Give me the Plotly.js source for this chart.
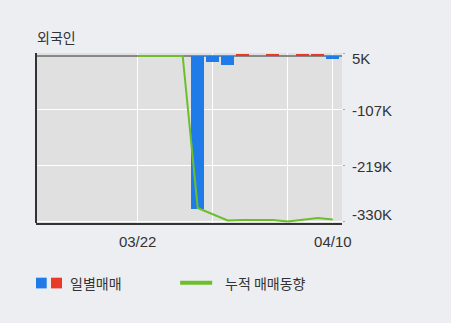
<!DOCTYPE html>
<html>
<head>
<meta charset="utf-8">
<script src="https://cdn.plot.ly/plotly-3.0.1.min.js"></script>
<style>html,body{margin:0;padding:0;background:#eceef2;}#chart{width:451px;height:323px;}</style>
</head>
<body>
<div id="chart"></div>
<script>
// trading dates (2019)
const dates = ["03/14","03/15","03/18","03/19","03/20","03/21","03/22","03/25","03/26","03/27","03/28","03/29","04/01","04/02","04/03","04/04","04/05","04/08","04/09","04/10"];
// daily net foreign trading (shares)
const daily = [0,0,0,0,0,0,0,0,0,0,-305000,-11000,-17000,5000,0,5000,0,5000,5000,-5000];
// cumulative trend
const cumulative = [null,null,null,null,null,null,0,0,0,0,-304000,-317000,-329000,-328000,-328000,-328000,-331000,-327000,-324000,-327000];
// axis ticks
const yTickVals = [5000,-107000,-219000,-330000];
const yTickText = ["5K","-107K","-219K","-330K"];
const xGridVals = ["03/22","03/29","04/05","04/10"];
const xTickText = ["03/22","","","04/10"];
const yLabelShift = [-4.5,-1,-1,7];
const title = "외국인";
const legendDaily = "일별매매";
const legendCum = "누적 매매동향";

const W=451,H=323, L=36, R=341.7, T=53.3, B=223.3;
function px(x){return (x-L)/(R-L);}
function py(y){return (B-y)/(B-T);}

const BLUE="#1f7be8", RED="#e8392a", GREEN="#6cbf2c";
const numFont = "Liberation Sans, Arial, sans-serif";
const krFont = "Noto Sans CJK KR, sans-serif";
const TXT = "#333";

const traces = [
 {type:"bar", x:dates, y:daily, width:0.87,
  marker:{color:daily.map(v=>v<0?BLUE:RED), line:{width:0}}, hoverinfo:"skip"},
 {type:"scatter", mode:"lines", x:dates, y:cumulative,
  line:{color:GREEN, width:2}, connectgaps:false, hoverinfo:"skip"}
];

const annotations = yTickVals.map((v,i)=>({
  xref:"paper", x:1, xanchor:"left", xshift:8, yref:"y", y:v, yanchor:"middle", yshift:yLabelShift[i],
  text:yTickText[i], showarrow:false, font:{family:numFont, size:15, color:TXT}
}));
annotations.push({xref:"paper", yref:"paper", x:px(68), y:py(283), xanchor:"left", yanchor:"middle",
  text:legendDaily, showarrow:false, font:{family:krFont, size:14, color:TXT}});
annotations.push({xref:"paper", yref:"paper", x:px(223), y:py(283), xanchor:"left", yanchor:"middle",
  text:legendCum, showarrow:false, font:{family:krFont, size:14, color:TXT}});

const shapes = [
 {type:"line", xref:"paper", yref:"paper", x0:0, x1:0, y0:0, y1:1, line:{color:"#333", width:2}},
 {type:"rect", xref:"paper", yref:"paper", x0:px(36), x1:px(46.7), y0:py(278), y1:py(288.7), fillcolor:BLUE, line:{width:0}},
 {type:"rect", xref:"paper", yref:"paper", x0:px(51), x1:px(62), y0:py(278), y1:py(288.7), fillcolor:RED, line:{width:0}},
 {type:"line", xref:"paper", yref:"paper", x0:px(180), x1:px(212), y0:py(283), y1:py(283), line:{color:GREEN, width:4}}
];

const layout = {
 width:W, height:H,
 margin:{l:L, r:W-R, t:T, b:H-B, pad:0},
 paper_bgcolor:"#eceef2", plot_bgcolor:"#e0e0e0",
 showlegend:false, bargap:0,
 title:{text:title, x:px(37), xref:"paper", xanchor:"left", y:1-38.3/H, yref:"container", yanchor:"middle",
   font:{family:krFont, size:14, color:TXT}},
 xaxis:{type:"category", range:[-0.77,19.61], tickvals:xGridVals, ticktext:xTickText,
   showgrid:true, gridcolor:"#ffffff", gridwidth:1, ticks:"", showline:true, linecolor:"#333", linewidth:2,
   ticklabelstandoff:4,
   tickfont:{family:numFont, size:15, color:TXT}, zeroline:false, fixedrange:true},
 yaxis:{range:[-334000,6000], tickvals:yTickVals, showticklabels:false, side:"right",
   showgrid:true, gridcolor:"#ffffff", gridwidth:1, zeroline:true, zerolinecolor:"#888", zerolinewidth:2,
   ticks:"outside", ticklen:2, tickcolor:"#aaa", showline:false, fixedrange:true},
 annotations:annotations, shapes:shapes
};

Plotly.newPlot("chart", traces, layout, {staticPlot:true, displayModeBar:false});
</script>
</body>
</html>
